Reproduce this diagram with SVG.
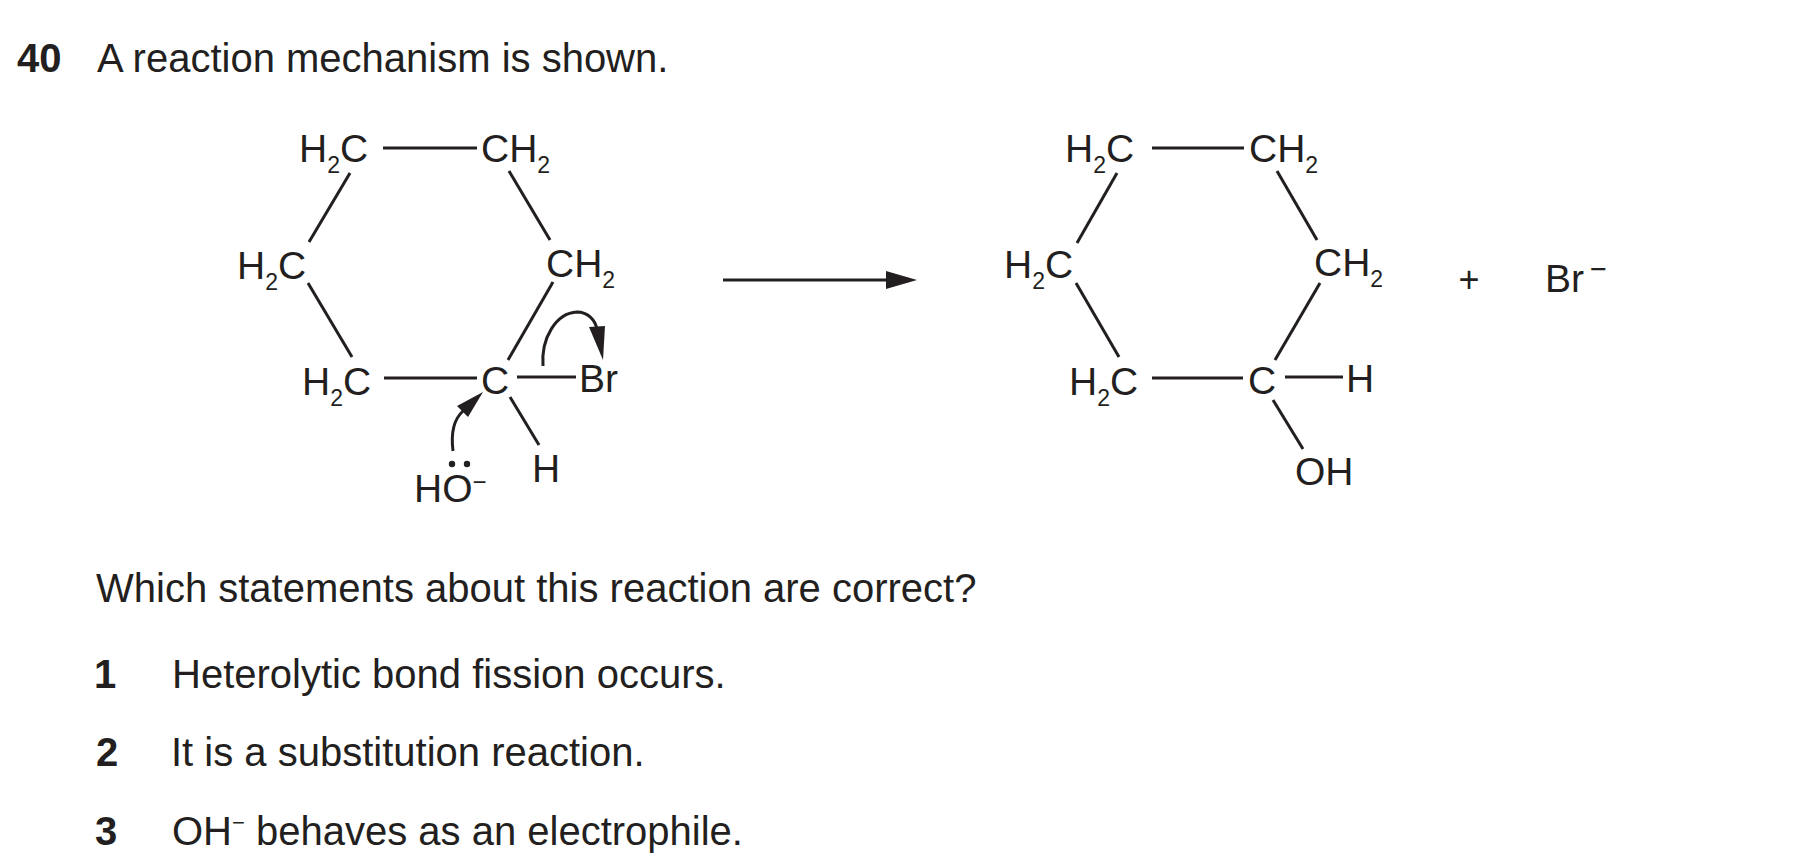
<svg xmlns="http://www.w3.org/2000/svg" width="1813" height="863" viewBox="0 0 1813 863">
<defs>
<style>
.t{font-family:"Liberation Sans",Arial,Helvetica,sans-serif;font-size:40px;fill:#231f20}
.bd{font-weight:bold}
.a{font-family:"Liberation Sans",Arial,Helvetica,sans-serif;font-size:39px;fill:#231f20}
.s{font-size:23px}
.bond{stroke:#231f20;stroke-width:3;fill:none}
.curve{stroke:#231f20;stroke-width:3;fill:none}
.head{fill:#231f20;stroke:none}
</style>
</defs>
<rect width="1813" height="863" fill="#ffffff"/>

<g id="title">
<text class="t bd" x="17" y="72">40</text>
<text class="t" x="97" y="72">A reaction mechanism is shown.</text>
</g>

<g id="connectors">
<!-- reactant ring bonds -->
<line class="bond" x1="383" y1="148" x2="477" y2="148"/>
<line class="bond" x1="350" y1="173" x2="309" y2="242"/>
<line class="bond" x1="509" y1="171" x2="550" y2="240"/>
<line class="bond" x1="308" y1="283" x2="352" y2="357"/>
<line class="bond" x1="553" y1="282" x2="508" y2="360"/>
<line class="bond" x1="384" y1="378" x2="477" y2="378"/>
<line class="bond" x1="517" y1="377" x2="576" y2="377"/>
<line class="bond" x1="510" y1="397" x2="539" y2="445"/>
<!-- curly arrows -->
<path class="curve" d="M453,451 C451,435 453,420 463,411"/>
<polygon class="head" points="483,392 468,417 457,406"/>
<path class="curve" d="M543,366 C541,338 556,313 577,312 C588,312 595,320 597,329"/>
<polygon class="head" points="603,360 589,327 605,326"/>
<!-- reaction arrow -->
<line class="bond" x1="723" y1="280" x2="890" y2="280"/>
<polygon class="head" points="886,271 917,280 886,289"/>
<!-- product ring bonds -->
<line class="bond" x1="1152" y1="148" x2="1244" y2="148"/>
<line class="bond" x1="1117" y1="173" x2="1077" y2="243"/>
<line class="bond" x1="1277" y1="171" x2="1317" y2="240"/>
<line class="bond" x1="1076" y1="283" x2="1119" y2="357"/>
<line class="bond" x1="1320" y1="283" x2="1275" y2="360"/>
<line class="bond" x1="1152" y1="378" x2="1243" y2="378"/>
<line class="bond" x1="1285" y1="377" x2="1343" y2="377"/>
<line class="bond" x1="1273" y1="400" x2="1303" y2="449"/>
</g>

<g id="r-c1"><text class="a" x="299" y="162">H<tspan class="s" dy="11">2</tspan><tspan dy="-11">C</tspan></text></g>
<g id="r-c2"><text class="a" x="481" y="162">CH<tspan class="s" dy="11">2</tspan></text></g>
<g id="r-c6"><text class="a" x="237" y="279">H<tspan class="s" dy="11">2</tspan><tspan dy="-11">C</tspan></text></g>
<g id="r-c3"><text class="a" x="546" y="277">CH<tspan class="s" dy="11">2</tspan></text></g>
<g id="r-c5"><text class="a" x="302" y="395">H<tspan class="s" dy="11">2</tspan><tspan dy="-11">C</tspan></text></g>
<g id="r-c4"><text class="a" x="481" y="394">C</text></g>
<g id="r-br"><text class="a" x="579" y="392">Br</text></g>
<g id="r-h"><text class="a" x="532" y="482">H</text></g>
<g id="r-oh">
<text class="a" x="414" y="502">HO<tspan style="font-size:24px" dy="-12">−</tspan></text>
<circle cx="452" cy="464" r="3.2" fill="#231f20"/>
<circle cx="467" cy="464" r="3.2" fill="#231f20"/>
</g>

<g id="p-c1"><text class="a" x="1065" y="162">H<tspan class="s" dy="11">2</tspan><tspan dy="-11">C</tspan></text></g>
<g id="p-c2"><text class="a" x="1249" y="162">CH<tspan class="s" dy="11">2</tspan></text></g>
<g id="p-c6"><text class="a" x="1004" y="278">H<tspan class="s" dy="11">2</tspan><tspan dy="-11">C</tspan></text></g>
<g id="p-c3"><text class="a" x="1314" y="276">CH<tspan class="s" dy="11">2</tspan></text></g>
<g id="p-c5"><text class="a" x="1069" y="395">H<tspan class="s" dy="11">2</tspan><tspan dy="-11">C</tspan></text></g>
<g id="p-c4"><text class="a" x="1248" y="394">C</text></g>
<g id="p-h"><text class="a" x="1346" y="392">H</text></g>
<g id="p-oh"><text class="a" x="1295" y="485">OH</text></g>
<g id="plus"><text class="a" x="1469" y="292" text-anchor="middle" style="font-size:36px">+</text></g>
<g id="p-br"><text class="a" x="1545" y="292">Br<tspan style="font-size:29px" dx="6" dy="-13">−</tspan></text></g>

<g id="question">
<text class="t" x="96" y="602">Which statements about this reaction are correct?</text>
<text class="t bd" x="94" y="688">1</text>
<text class="t" x="172" y="688">Heterolytic bond fission occurs.</text>
<text class="t bd" x="96" y="766">2</text>
<text class="t" x="171" y="766">It is a substitution reaction.</text>
<text class="t bd" x="95" y="845">3</text>
<text class="t" x="172" y="845">OH<tspan style="font-size:22px" dy="-15">−</tspan><tspan dy="15"> behaves as an electrophile.</tspan></text>
</g>
</svg>
